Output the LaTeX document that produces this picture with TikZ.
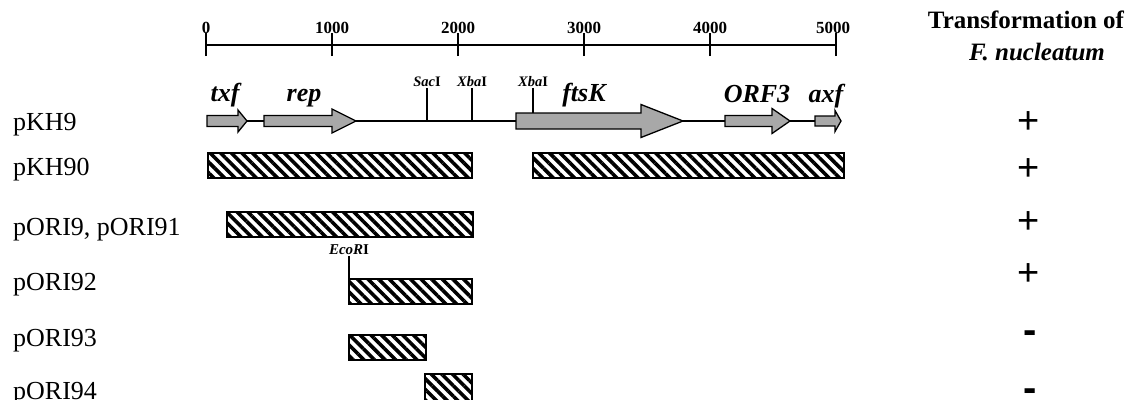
\documentclass[tikz,border=0pt]{standalone}
\usepackage{fontspec}
\setmainfont{Liberation Serif}
\newfontfamily\symfnt{Liberation Sans}
\usetikzlibrary{patterns.meta}
\begin{document}
\begin{tikzpicture}[x=1pt,y=-1pt,
  rowlbl/.style={anchor=base west, inner sep=0pt, font=\fontsize{26}{28}\selectfont},
  scalelbl/.style={anchor=base, inner sep=0pt, font=\bfseries\fontsize{17}{19}\selectfont},
  genelbl/.style={anchor=base, inner sep=0pt, font=\bfseries\itshape\fontsize{26}{28}\selectfont},
  sitelbl/.style={anchor=base, inner sep=0pt, font=\bfseries\fontsize{14.5}{16}\selectfont},
  titlelbl/.style={anchor=base, inner sep=0pt, font=\bfseries\fontsize{25}{27}\selectfont},
  plussym/.style={anchor=base, inner sep=0pt, font=\symfnt\fontsize{38}{40}\selectfont},
  minussym/.style={anchor=base, inner sep=0pt, font=\symfnt\bfseries\fontsize{40}{42}\selectfont},
  rulerline/.style={line width=2pt},
  backbone/.style={line width=1.3pt},
  gene/.style={draw=black, line width=1.3pt, fill=black!34, line join=miter},
  hatchbar/.style={draw=black, line width=1.6pt, pattern={Lines[angle=-45,distance=7.5pt,line width=3.6pt]}},
  siteline/.style={line width=1.3pt}
]
\useasboundingbox (0,0) rectangle (1135,399);

% ---------- ruler ----------
\coordinate (r0) at (206,45);
\coordinate (r5) at (836,45);
\draw[rulerline] (r0) -- (r5);
\foreach \i in {0,...,5}{
  \coordinate (t\i) at ({206+126*\i},45);
  \draw[rulerline] ([yshift=-11pt]t\i) -- ([yshift=12pt]t\i);
}
\node[scalelbl] (l0) at (206,33) {0};
\node[scalelbl] (l1) at (332,33) {1000};
\node[scalelbl] (l2) at (458,33) {2000};
\node[scalelbl] (l3) at (584,33) {3000};
\node[scalelbl] (l4) at (710,33) {4000};
\node[scalelbl] (l5) at (833,33) {5000};

% ---------- title ----------
\node[titlelbl] (title1) at (1026,28) {Transformation of};
\node[titlelbl, font=\bfseries\itshape\fontsize{25}{27}\selectfont] (title2) at (1037,60) {F. nucleatum};

% ---------- row labels ----------
\node[rowlbl] (pkh9) at (13,130) {pKH9};
\node[rowlbl] (pkh90) at (13,175) {pKH90};
\node[rowlbl] (pori9) at (13,235) {pORI9, pORI91};
\node[rowlbl] (pori92) at (13,290) {pORI92};
\node[rowlbl] (pori93) at (13,346) {pORI93};
\node[rowlbl] (pori94) at (13,399) {pORI94};

% ---------- pKH9 map ----------
\coordinate (bbL) at (207,121);
\coordinate (bbR) at (840,121);
\draw[backbone] (bbL) -- (bbR);
% genes
\path[gene] (207,115.5) -- (238,115.5) -- (238,110) -- (247,121) -- (238,132) -- (238,126.5) -- (207,126.5) -- cycle;
\path[gene] (264,115.5) -- (332,115.5) -- (332,109) -- (356,121) -- (332,133) -- (332,126.5) -- (264,126.5) -- cycle;
\path[gene] (516,113) -- (641,113) -- (641,104.5) -- (683,121) -- (641,137.5) -- (641,129) -- (516,129) -- cycle;
\path[gene] (725,115.5) -- (772,115.5) -- (772,108.5) -- (790,121) -- (772,133.5) -- (772,126.5) -- (725,126.5) -- cycle;
\path[gene] (815,116) -- (835,116) -- (835,110.5) -- (841,121) -- (835,131.5) -- (835,126) -- (815,126) -- cycle;
\node[genelbl] (txf) at (225,101) {txf};
\node[genelbl] (rep) at (304,101) {rep};
\node[genelbl] (ftsk) at (584,101) {ftsK};
\node[genelbl] (orf3) at (757,102) {ORF3};
\node[genelbl] (axf) at (826,102) {axf};
% restriction sites
\node[sitelbl] (sac) at (427,86) {\itshape Sac\upshape I};
\node[sitelbl] (xba1) at (472,86) {\itshape Xba\upshape I};
\node[sitelbl] (xba2) at (533,86) {\itshape Xba\upshape I};
\coordinate (sacb) at (427,121);
\coordinate (xba1b) at (472,121);
\coordinate (xba2b) at (533,113);
\draw[siteline] ([yshift=-1.5pt]sac.south) -- (sacb);
\draw[siteline] ([yshift=-1.5pt]xba1.south) -- (xba1b);
\draw[siteline] ([yshift=-1.5pt]xba2.south) -- (xba2b);

% ---------- hatched fragments ----------
\path[hatchbar] (208,153) rectangle (472,178);
\path[hatchbar] (533,153) rectangle (844,178);
\path[hatchbar] (227,212) rectangle (473,237);
\path[hatchbar] (349,279) rectangle (472,304);
\path[hatchbar] (349,335) rectangle (426,360);
\path[hatchbar] (425,374) rectangle (472,403);
\node[sitelbl, font=\bfseries\fontsize{15}{17}\selectfont] (eco) at (349,254) {\itshape EcoR\upshape I};
\coordinate (ecob) at (349,279);
\draw[siteline] ([yshift=-1.5pt]eco.south) -- (ecob);

% ---------- results ----------
\node[plussym] (s1) at (1029,133) {+};
\node[plussym] (s2) at (1029,180) {+};
\node[plussym] (s3) at (1029,233) {+};
\node[plussym] (s4) at (1029,285) {+};
\node[minussym] (s5) at (1030,343) {-};
\node[minussym] (s6) at (1030,401) {-};
\end{tikzpicture}
\end{document}
